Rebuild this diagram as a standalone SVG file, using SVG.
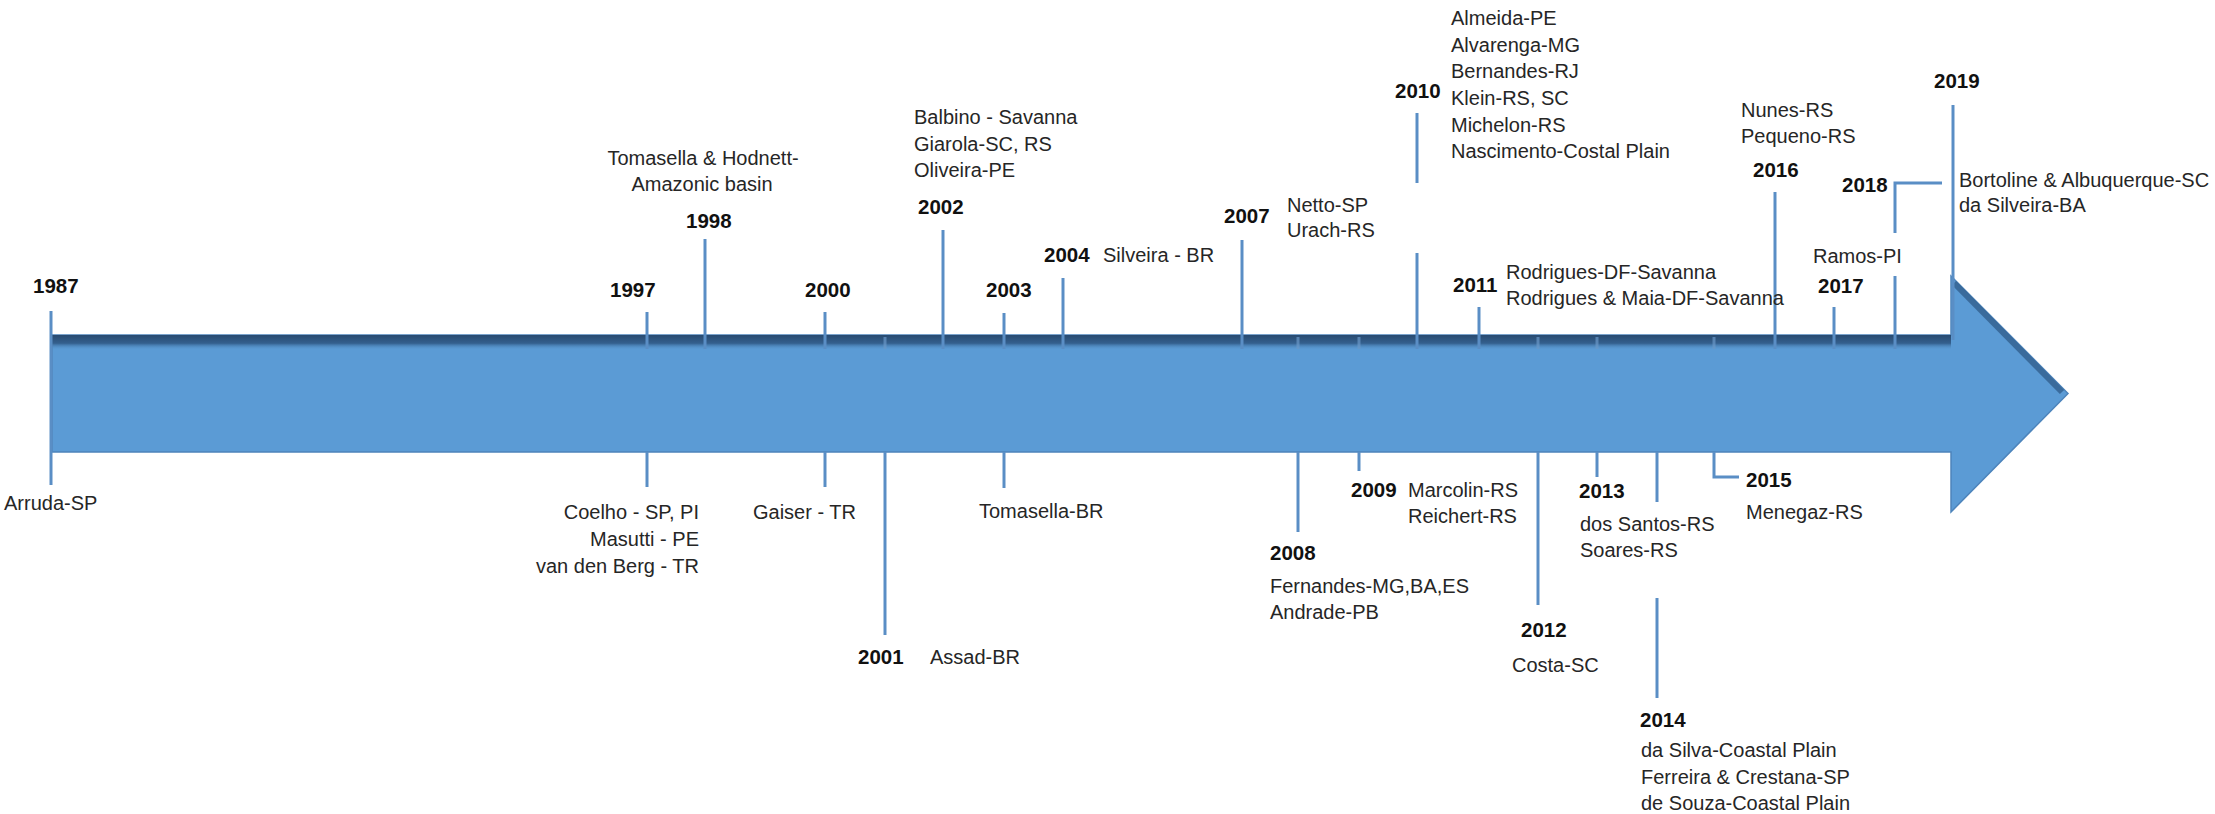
<svg xmlns="http://www.w3.org/2000/svg" width="2215" height="814" viewBox="0 0 2215 814">
<style>
text{font-family:"Liberation Sans",Arial,sans-serif;font-size:20px;fill:#262626}
.y{font-weight:bold;font-size:20.5px;fill:#111}
.t{stroke:#5a8ec5;stroke-width:3;fill:none}
.s{stroke:#6a98c8;stroke-width:3;opacity:.7}
</style>
<defs>
<linearGradient id="band" x1="0" y1="0" x2="0" y2="1">
<stop offset="0" stop-color="#284a70"/>
<stop offset="0.55" stop-color="#34608e"/>
<stop offset="1" stop-color="#5b9bd5" stop-opacity="0"/>
</linearGradient>
</defs>
<rect width="2215" height="814" fill="#fff"/>
<g id="arrow">
<polygon points="52,335 1951,335 1951,276 2068,393.5 1951,512 1951,452 52,452" fill="#5b9bd5" stroke="#4d84bb" stroke-width="1.5"/>
<rect x="52" y="335" width="1899" height="15" fill="url(#band)"/>
<line x1="1954" y1="283" x2="2062" y2="392" stroke="#33608e" stroke-width="6" opacity="0.8"/>
</g>
<g id="connectors">
<line class="t" x1="51" y1="311" x2="51" y2="485"/>
<line class="t" x1="647" y1="312" x2="647" y2="349"/><line class="t" x1="647" y1="452" x2="647" y2="487"/>
<line class="t" x1="705" y1="239" x2="705" y2="349"/>
<line class="t" x1="825" y1="312" x2="825" y2="349"/><line class="t" x1="825" y1="452" x2="825" y2="487"/>
<line class="s" x1="885" y1="337" x2="885" y2="349"/><line class="t" x1="885" y1="452" x2="885" y2="635"/>
<line class="t" x1="943" y1="230" x2="943" y2="349"/>
<line class="t" x1="1004" y1="313" x2="1004" y2="349"/><line class="t" x1="1004" y1="452" x2="1004" y2="488"/>
<line class="t" x1="1063" y1="278" x2="1063" y2="349"/>
<line class="t" x1="1242" y1="240" x2="1242" y2="349"/>
<line class="s" x1="1298" y1="337" x2="1298" y2="349"/><line class="t" x1="1298" y1="452" x2="1298" y2="532"/>
<line class="s" x1="1359" y1="337" x2="1359" y2="349"/><line class="t" x1="1359" y1="452" x2="1359" y2="471"/>
<line class="t" x1="1417" y1="113" x2="1417" y2="183"/><line class="t" x1="1417" y1="253" x2="1417" y2="349"/>
<line class="t" x1="1479" y1="307" x2="1479" y2="349"/>
<line class="s" x1="1538" y1="337" x2="1538" y2="349"/><line class="t" x1="1538" y1="452" x2="1538" y2="605"/>
<line class="s" x1="1597" y1="337" x2="1597" y2="349"/><line class="t" x1="1597" y1="452" x2="1597" y2="477"/>
<line class="t" x1="1657" y1="452" x2="1657" y2="502"/><line class="t" x1="1657" y1="598" x2="1657" y2="698"/>
<line class="s" x1="1714" y1="337" x2="1714" y2="349"/><polyline class="t" points="1714,452 1714,477 1739,477"/>
<line class="t" x1="1775" y1="192" x2="1775" y2="349"/>
<line class="t" x1="1834" y1="307" x2="1834" y2="349"/>
<line class="t" x1="1895" y1="276" x2="1895" y2="349"/><polyline class="t" points="1895,233 1895,183 1942,183"/>
<line class="t" x1="1953" y1="105" x2="1953" y2="340"/>
</g>
<g id="y1987"><text class="y" x="33" y="293">1987</text><text x="4" y="510">Arruda-SP</text></g>
<g id="y1997"><text class="y" x="610" y="297">1997</text><text text-anchor="end" x="699" y="519">Coelho - SP, PI</text><text text-anchor="end" x="699" y="546">Masutti - PE</text><text text-anchor="end" x="699" y="573">van den Berg - TR</text></g>
<g id="y1998"><text class="y" x="686" y="228">1998</text><text text-anchor="middle" x="703" y="165">Tomasella &amp; Hodnett-</text><text text-anchor="middle" x="702" y="191">Amazonic basin</text></g>
<g id="y2000"><text class="y" x="805" y="297">2000</text><text x="753" y="519">Gaiser - TR</text></g>
<g id="y2001"><text class="y" x="858" y="664">2001</text><text x="930" y="664">Assad-BR</text></g>
<g id="y2002"><text class="y" x="918" y="214">2002</text><text x="914" y="124">Balbino - Savanna</text><text x="914" y="151">Giarola-SC, RS</text><text x="914" y="177">Oliveira-PE</text></g>
<g id="y2003"><text class="y" x="986" y="297">2003</text><text x="979" y="518">Tomasella-BR</text></g>
<g id="y2004"><text class="y" x="1044" y="262">2004</text><text x="1103" y="262">Silveira - BR</text></g>
<g id="y2007"><text class="y" x="1224" y="223">2007</text><text x="1287" y="212">Netto-SP</text><text x="1287" y="237">Urach-RS</text></g>
<g id="y2008"><text class="y" x="1270" y="560">2008</text><text x="1270" y="593">Fernandes-MG,BA,ES</text><text x="1270" y="619">Andrade-PB</text></g>
<g id="y2009"><text class="y" x="1351" y="497">2009</text><text x="1408" y="497">Marcolin-RS</text><text x="1408" y="523">Reichert-RS</text></g>
<g id="y2010"><text class="y" x="1395" y="98">2010</text><text x="1451" y="25">Almeida-PE</text><text x="1451" y="52">Alvarenga-MG</text><text x="1451" y="78">Bernandes-RJ</text><text x="1451" y="105">Klein-RS, SC</text><text x="1451" y="132">Michelon-RS</text><text x="1451" y="158">Nascimento-Costal Plain</text></g>
<g id="y2011"><text class="y" x="1453" y="292">2011</text><text x="1506" y="279">Rodrigues-DF-Savanna</text><text x="1506" y="305">Rodrigues &amp; Maia-DF-Savanna</text></g>
<g id="y2012"><text class="y" x="1521" y="637">2012</text><text x="1512" y="672">Costa-SC</text></g>
<g id="y2013"><text class="y" x="1579" y="498">2013</text><text x="1580" y="531">dos Santos-RS</text><text x="1580" y="557">Soares-RS</text></g>
<g id="y2014"><text class="y" x="1640" y="727">2014</text><text x="1641" y="757">da Silva-Coastal Plain</text><text x="1641" y="784">Ferreira &amp; Crestana-SP</text><text x="1641" y="810">de Souza-Coastal Plain</text></g>
<g id="y2015"><text class="y" x="1746" y="487">2015</text><text x="1746" y="519">Menegaz-RS</text></g>
<g id="y2016"><text class="y" x="1753" y="177">2016</text><text x="1741" y="117">Nunes-RS</text><text x="1741" y="143">Pequeno-RS</text></g>
<g id="y2017"><text class="y" x="1818" y="293">2017</text><text x="1813" y="263">Ramos-PI</text></g>
<g id="y2018"><text class="y" x="1842" y="192">2018</text></g>
<g id="y2019"><text class="y" x="1934" y="88">2019</text><text x="1959" y="187">Bortoline &amp; Albuquerque-SC</text><text x="1959" y="212">da Silveira-BA</text></g>
</svg>
